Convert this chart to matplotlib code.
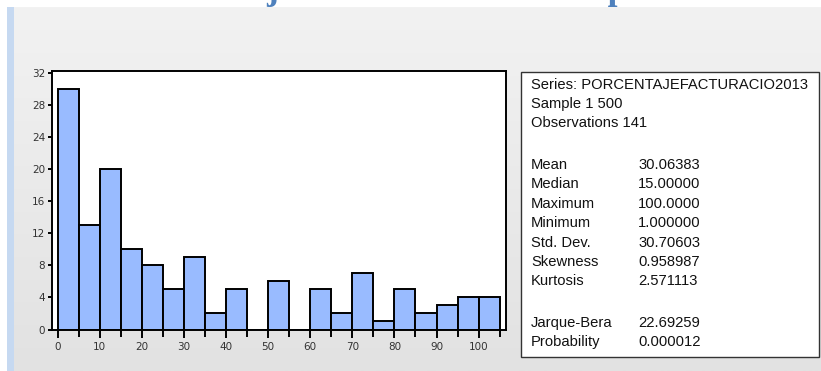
import numpy as np
import matplotlib.pyplot as plt
from matplotlib.colors import LinearSegmentedColormap
from matplotlib.patches import Rectangle

# histogram bins (width 5) and counts
bin_edges = list(range(0, 110, 5))
counts = [30, 13, 20, 10, 8, 5, 9, 2, 5, 0, 6, 0, 5, 2, 7, 1, 5, 2, 3, 4, 4]

stat_names = ["Mean", "Median", "Maximum", "Minimum", "Std. Dev.", "Skewness", "Kurtosis"]
stat_values = ["30.06383", "15.00000", "100.0000", "1.000000", "30.70603", "0.958987", "2.571113"]
test_names = ["Jarque-Bera", "Probability"]
test_values = ["22.69259", "0.000012"]

W, H = 821, 371
fig = plt.figure(figsize=(W / 100, H / 100), dpi=100)
fig.patch.set_facecolor("white")


def fx(px):
    return px / W


def fy(py):
    return 1 - py / H


# gray gradient panel with the blue bar on its left
bg = fig.add_axes([fx(14), 0, 1 - fx(14), fy(7)])
grad = np.linspace(0, 1, 256).reshape(-1, 1)
bg.imshow(grad, aspect="auto", cmap=LinearSegmentedColormap.from_list("g", ["#f2f2f2", "#e2e2e2"]),
          extent=[0, 1, 0, 1], origin="upper")
bg.axis("off")
fig.patches.append(Rectangle((fx(7), 0), fx(7), fy(7), transform=fig.transFigure,
                             facecolor="#c6d9f1", edgecolor="none", zorder=1))

# heading, mostly cut off by the top edge
fig.text(fx(-80), fy(-0.7), "Gráfico N° 4: Porcentaje de facturación de exportaciones 2013",
         family="Liberation Serif", weight="bold", fontsize=25.5, color="#4f81bd",
         ha="left", va="baseline")

# histogram
ax = fig.add_axes([fx(52), fy(329.5), fx(506 - 52), (329.5 - 71) / H])
ax.set_facecolor("white")
ax.hist(np.repeat(np.array(bin_edges[:-1]) + 2.5, counts), bins=bin_edges,
        color="#99bbff", edgecolor="black", linewidth=1.4)
ax.set_xlim(-1.35, 106.5)
ax.set_ylim(0, 32.2)
ax.set_yticks(range(0, 33, 4))
ax.set_xticks(range(0, 101, 10))
ax.set_xticks(range(5, 106, 10), minor=True)
for s in ax.spines.values():
    s.set_linewidth(1.4)
    s.set_zorder(3)
ax.tick_params(axis="y", length=3, width=1.4, labelsize=7.5, pad=2, labelcolor="#333333")
ax.tick_params(axis="x", which="major", length=6, width=1.4, labelsize=7.5, pad=3,
               labelcolor="#333333")
ax.tick_params(axis="x", which="minor", length=5, width=1.4)

# descriptive statistics box
fig.patches.append(Rectangle((fx(521), fy(357)), fx(819 - 521), (357 - 72) / H,
                             transform=fig.transFigure, facecolor="white",
                             edgecolor="#333333", linewidth=1.0, zorder=2))
font = dict(family="Liberation Sans", fontsize=10.6, color="#111111", va="center", zorder=3)
fig.text(fx(531), fy(85), "Series: PORCENTAJEFACTURACIO2013", **font)
fig.text(fx(531), fy(104), "Sample 1 500", **font)
fig.text(fx(531), fy(123), "Observations 141", **font)
for i, (n, v) in enumerate(zip(stat_names, stat_values)):
    y = 165 + i * 19.4
    fig.text(fx(531), fy(y), n, **font)
    fig.text(fx(638), fy(y), v, **font)
for i, (n, v) in enumerate(zip(test_names, test_values)):
    y = 323 + i * 19.4
    fig.text(fx(531), fy(y), n, **font)
    fig.text(fx(638), fy(y), v, **font)

fig.savefig("out.png", dpi=100)
